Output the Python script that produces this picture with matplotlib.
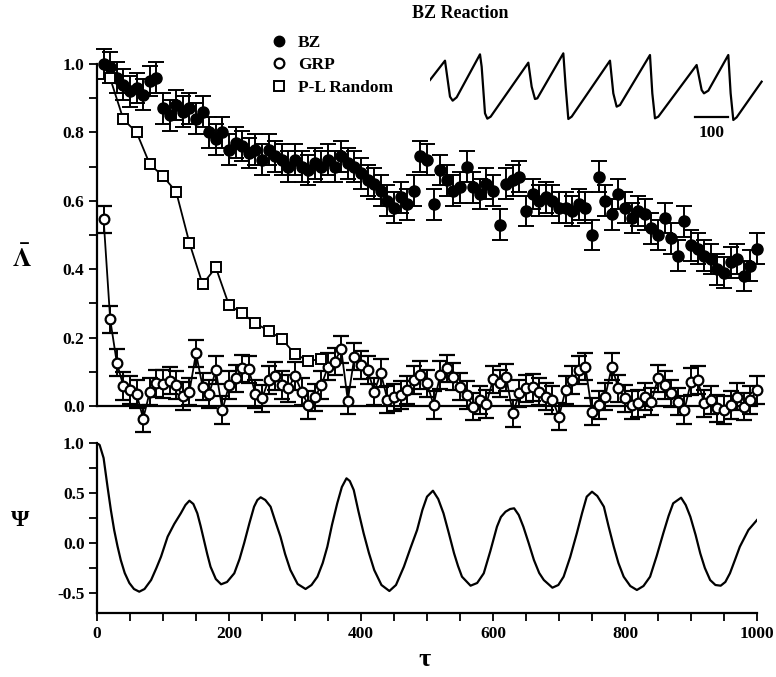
import matplotlib
matplotlib.use('Agg')
import matplotlib.pyplot as plt
import numpy as np
from matplotlib.lines import Line2D
from matplotlib.ticker import MultipleLocator, FormatStrFormatter

plt.rcParams['font.family'] = ['Liberation Serif', 'DejaVu Serif']
plt.rcParams['font.weight'] = 'bold'
plt.rcParams['mathtext.fontset'] = 'stix'

# lag values (tau) for BZ and GRP series
tau = np.arange(10, 1001, 10)

bz = [1.00, 0.99, 0.96, 0.94, 0.92, 0.93, 0.91, 0.95, 0.96, 0.87,
      0.85, 0.88, 0.86, 0.87, 0.84, 0.86, 0.80, 0.78, 0.80, 0.75,
      0.77, 0.76, 0.74, 0.75, 0.72, 0.75, 0.73, 0.72, 0.70, 0.72,
      0.70, 0.69, 0.71, 0.70, 0.72, 0.70, 0.73, 0.71, 0.70, 0.68,
      0.66, 0.65, 0.63, 0.60, 0.58, 0.61, 0.59, 0.63, 0.73, 0.72,
      0.59, 0.69, 0.66, 0.63, 0.64, 0.70, 0.64, 0.62, 0.65, 0.63,
      0.53, 0.65, 0.66, 0.67, 0.57, 0.62, 0.60, 0.61, 0.60, 0.58,
      0.58, 0.57, 0.59, 0.58, 0.50, 0.67, 0.60, 0.56, 0.62, 0.58,
      0.55, 0.57, 0.56, 0.52, 0.50, 0.55, 0.49, 0.44, 0.54, 0.47,
      0.46, 0.44, 0.43, 0.40, 0.39, 0.42, 0.43, 0.38, 0.41, 0.46]
bz_err = 0.045

grp = [0.546, 0.253, 0.127, 0.058, 0.047, 0.035, -0.037, 0.042, 0.066, 0.064,
       0.074, 0.061, 0.029, 0.042, 0.154, 0.057, 0.035, 0.105, -0.012, 0.061,
       0.081, 0.110, 0.107, 0.035, 0.022, 0.076, 0.088, 0.061, 0.052, 0.088,
       0.042, 0.003, 0.025, 0.061, 0.115, 0.130, 0.166, 0.016, 0.144, 0.120,
       0.105, 0.042, 0.096, 0.019, 0.025, 0.032, 0.047, 0.076, 0.091, 0.066,
       0.003, 0.091, 0.110, 0.086, 0.057, 0.032, -0.002, 0.018, 0.006, 0.078,
       0.066, 0.084, -0.021, 0.037, 0.052, 0.055, 0.042, 0.027, 0.018, -0.031,
       0.047, 0.076, 0.105, 0.115, -0.017, 0.003, 0.027, 0.115, 0.052, 0.022,
       0.003, 0.008, 0.027, 0.013, 0.081, 0.061, 0.037, 0.013, -0.012, 0.071,
       0.076, 0.008, 0.018, -0.007, -0.012, 0.003, 0.027, -0.002, 0.018, 0.047]
grp_err = 0.04

pl_tau = [20, 40, 60, 80, 100, 120, 140, 160, 180, 200, 220, 240, 260, 280, 300, 320, 340]
pl = [0.958, 0.838, 0.800, 0.707, 0.672, 0.626, 0.477, 0.356, 0.405, 0.295,
      0.271, 0.242, 0.220, 0.196, 0.152, 0.132, 0.137]

psi_tau = [0, 4, 10, 16, 21, 26, 31, 36, 42, 49, 56, 64, 72, 82, 90, 97, 107, 117, 127, 134,
           140, 146, 152, 157, 162, 167, 172, 180, 188, 197, 208, 216, 223, 231, 238, 243, 248, 255,
           263, 270, 278, 285, 293, 304, 316, 325, 334, 342, 349, 356, 364, 371, 378, 383, 389,
           396, 404, 412, 420, 431, 443, 453, 465, 475, 485, 493, 500, 509, 517, 525, 533, 541,
           547, 553, 566, 576, 586, 596, 606, 612, 619, 626, 632, 639, 646, 654, 662, 670, 677,
           690, 699, 707, 717, 727, 735, 742, 750, 758, 768, 775, 783, 790, 798, 808, 818, 828,
           838, 848, 858, 866, 873, 885, 892, 899, 907, 914, 921, 929, 937, 945, 952, 959, 966,
           974, 987, 1000]
psi = [1.00, 0.98, 0.85, 0.56, 0.33, 0.13, -0.03, -0.17, -0.30, -0.40, -0.46, -0.487, -0.46,
       -0.37, -0.25, -0.137, 0.063, 0.19, 0.297, 0.38, 0.423, 0.39, 0.297, 0.17, 0.03, -0.11,
       -0.237, -0.36, -0.413, -0.39, -0.303, -0.16, 0.0, 0.20, 0.363, 0.43, 0.457, 0.43, 0.363,
       0.22, 0.063, -0.11, -0.27, -0.41, -0.46, -0.42, -0.337, -0.20, -0.037, 0.18, 0.397, 0.56,
       0.647, 0.62, 0.53, 0.32, 0.097, -0.10, -0.27, -0.42, -0.48, -0.42, -0.237, -0.05, 0.13,
       0.33, 0.463, 0.523, 0.44, 0.297, 0.10, -0.103, -0.23, -0.337, -0.427, -0.40, -0.303,
       -0.08, 0.163, 0.26, 0.313, 0.34, 0.347, 0.28, 0.163, 0.0, -0.17, -0.30, -0.37, -0.447,
       -0.42, -0.337, -0.14, 0.097, 0.30, 0.463, 0.513, 0.47, 0.363, 0.17, -0.037, -0.20,
       -0.337, -0.43, -0.47, -0.43, -0.337, -0.13, 0.097, 0.27, 0.397, 0.453, 0.38, 0.263,
       0.08, -0.103, -0.25, -0.37, -0.42, -0.427, -0.39, -0.303, -0.18, -0.037, 0.13, 0.23]

# inset time trace (arbitrary units, 100 = scale bar)
trace_t = [0, 45, 60, 68, 80, 150, 155, 165, 172, 182, 295, 305, 315, 322, 400, 407,
           415, 425, 540, 550, 560, 570, 660, 667, 675, 685, 800, 815, 822, 835, 895, 902,
           910, 920, 995]
trace_v = [120, 178, 70, 58, 68, 197, 160, 20, 4, 10, 172, 100, 63, 65, 200, 100,
           3, 10, 178, 80, 40, 45, 195, 80, 5, 10, 165, 90, 80, 88, 195, 80,
           0, 8, 115]

fig = plt.figure(figsize=(7.76, 6.77), dpi=100)
ax1 = fig.add_axes([97/776, 1-406/677, 660/776, 342/677])
ax2 = fig.add_axes([97/776, 1-613/677, 660/776, 170/677])

ax1.errorbar(tau, bz, yerr=bz_err, fmt='o', color='k', ms=8, capsize=6,
             elinewidth=1.4, capthick=1.4, zorder=2)
ax1.errorbar(tau, grp, yerr=grp_err, fmt='-o', color='k', mfc='white', ms=7, mew=1.6,
             lw=1.3, capsize=6, elinewidth=1.4, capthick=1.4, zorder=3)
ax1.plot(pl_tau, pl, '-s', color='k', mfc='white', ms=6.5, mew=1.4, lw=1.3, zorder=4)
for art in ax1.get_children():
    art.set_clip_on(False)

ax1.set_xlim(0, 1000)
ax1.set_ylim(0, 1.0)
ax1.yaxis.set_major_locator(MultipleLocator(0.2))
ax1.yaxis.set_minor_locator(MultipleLocator(0.1))
ax1.yaxis.set_major_formatter(FormatStrFormatter('%.1f'))
ax1.tick_params(axis='x', bottom=False, labelbottom=False)

ax2.plot(psi_tau, psi, 'k-', lw=1.6)
ax2.set_xlim(0, 1000)
ax2.set_ylim(-0.7, 1.0)
ax2.set_yticks([-0.5, 0.0, 0.5, 1.0])
ax2.yaxis.set_minor_locator(MultipleLocator(0.25))
ax2.yaxis.set_major_formatter(FormatStrFormatter('%.1f'))
ax2.xaxis.set_major_locator(MultipleLocator(200))
ax2.xaxis.set_minor_locator(MultipleLocator(50))

for ax in (ax1, ax2):
    for s in ('top', 'right'):
        ax.spines[s].set_visible(False)
    for s in ('left', 'bottom'):
        ax.spines[s].set_linewidth(1.6)
    ax.tick_params(which='both', direction='out', length=6, width=1.3, labelsize=12.5, pad=3)

handles = [Line2D([], [], marker='o', ls='none', color='k', ms=7.5),
           Line2D([], [], marker='o', ls='none', color='k', mfc='white', ms=7, mew=1.6),
           Line2D([], [], marker='s', ls='none', color='k', mfc='white', ms=6.5, mew=1.4)]
fig.legend(handles, ['BZ', 'GRP', 'P-L Random'], loc='upper left',
           bbox_to_anchor=(270/776, 1-35/677), frameon=False, fontsize=12.5,
           handlelength=1.0, handletextpad=0.6, labelspacing=0.35, borderpad=0, borderaxespad=0)

fig.text(460/776, 1-13/677, 'BZ Reaction', ha='center', va='center', fontsize=13, weight='bold')
fig.text(22/776, 1-258/677, r'$\bar{\Lambda}$', ha='center', va='center', fontsize=19)
fig.text(20/776, 1-520/677, 'Ψ', ha='center', va='center', fontsize=17, weight='bold')
fig.text(425/776, 1-660/677, 'τ', ha='center', va='center', fontsize=19, weight='bold')

axi = fig.add_axes([430/776, 1-140/677, 333.3/776, 90/677])
axi.plot(trace_t, trace_v, 'k-', lw=1.6)
axi.plot([795, 895], [10, 10], 'k-', lw=1.6)
axi.text(845, -40, '100', ha='center', va='center', fontsize=12.5, weight='bold')
axi.set_xlim(0, 1000)
axi.set_ylim(-60, 210)
axi.axis('off')

fig.savefig('out.png', dpi=100)
